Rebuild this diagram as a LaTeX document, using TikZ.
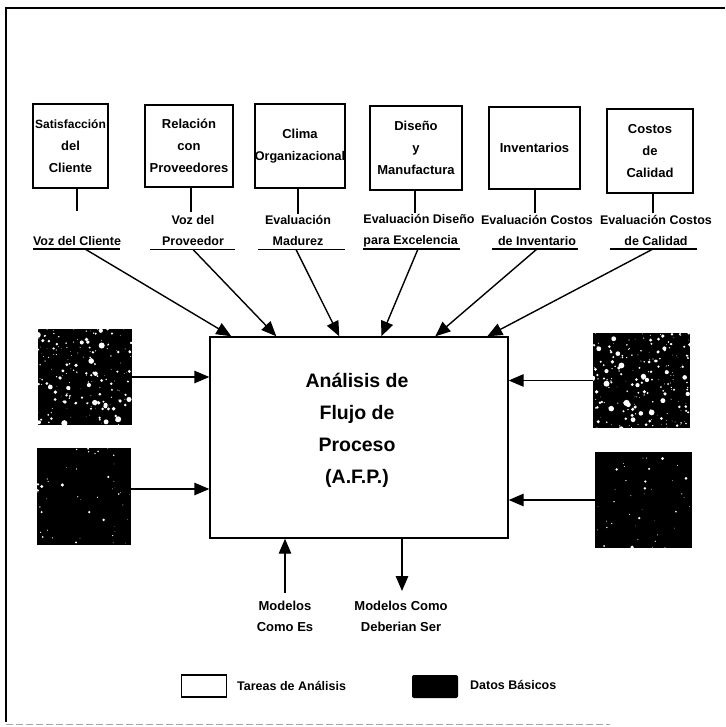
\documentclass[tikz,border=0pt]{standalone}
\usepackage{fontspec}
\setmainfont{Liberation Sans}
\usetikzlibrary{arrows.meta,calc}

% white flecks scattered over a dark data block: node, count, seed, max radius
\newcommand{\specks}[4]{%
  \begin{scope}
    \clip (#1.south west) rectangle (#1.north east);
    \pgfmathsetseed{#3}
    \foreach \k in {1,...,#2}{
      \pgfmathsetmacro{\sx}{rnd}
      \pgfmathsetmacro{\sy}{rnd}
      \pgfmathsetmacro{\sr}{0.3+#4*rnd*rnd}
      \fill[white] ($(#1.north west)!\sx!(#1.north east)$) ++(0,\sy*96) circle (\sr);
    }
  \end{scope}}

\begin{document}
\begin{tikzpicture}[x=1pt,y=-1pt,
  taskbox/.style={draw,line width=1.4pt,inner sep=0pt,align=center,
    font=\bfseries\fontsize{13}{22}\selectfont},
  datbox/.style={fill=black,inner sep=0pt},
  lbl/.style={align=center,inner sep=0pt,font=\bfseries\fontsize{12.5}{21}\selectfont},
  small/.style={align=center,inner sep=0pt,font=\bfseries\fontsize{13}{21}\selectfont},
  legtxt/.style={inner sep=0pt,font=\bfseries\fontsize{12.5}{15}\selectfont},
  stem/.style={line width=1.4pt},
  uline/.style={line width=1.2pt},
  arr/.style={line width=1.4pt,-{Triangle[length=15pt,width=12.5pt]}}]

\useasboundingbox (0,0) rectangle (725,727);

% page frame
\draw[line width=1.2pt] (725,8) -- (6,8) -- (6,722);
\draw[black!35,line width=0.6pt,dash pattern=on 7pt off 3pt] (6,724) -- (610,724);

% analysis tasks
\node[taskbox,minimum width=75pt,minimum height=84pt] (b1) at (70.5,146)
  {{\fontsize{12}{22}\selectfont Satisfacción}\\del\\Cliente};
\node[taskbox,minimum width=88pt,minimum height=82pt] (b2) at (189,146) {Relación\\con\\Proveedores};
\node[taskbox,minimum width=90pt,minimum height=84pt] (b3) at (300,146)
  {Clima\\{\fontsize{12.6}{22}\selectfont Organizacional}};
\node[taskbox,minimum width=92pt,minimum height=84pt] (b4) at (416,148) {Diseño\\y\\Manufactura};
\node[taskbox,minimum width=91pt,minimum height=82pt] (b5) at (534.5,148) {Inventarios};
\node[taskbox,minimum width=86pt,minimum height=84pt] (b6) at (650,151) {Costos\\de\\Calidad};

% their results
\node[lbl] (l1) at (77,241) {Voz del Cliente};
\node[lbl] (l2) at (193,230.5) {Voz del\\Proveedor};
\node[lbl] (l3) at (298,230.5) {Evaluación\\Madurez};
\node[lbl,align=left] (l4) at (419,230.5) {Evaluación Diseño\\para Excelencia};
\node[lbl] (l5) at (537,230.5) {Evaluación Costos\\de Inventario};
\node[lbl] (l6) at (656,230.5) {Evaluación Costos\\de Calidad};

% stems from the boxes
\draw[stem] (b1.south -| 77,0) -- (77,211);
\draw[stem] (b2.south -| 191,0) -- (191,212);
\draw[stem] (b3.south -| 298,0) -- (298,214);
\draw[stem] (b4.south -| 415,0) -- (415,213);
\draw[stem] (b5.south -| 535,0) -- (535,213);
\draw[stem] (b6.south -| 653,0) -- (653,213);

% underlines
\draw[uline] (33,249) -- (120,249);
\draw[uline] (150,249.5) -- (235,249.5);
\draw[uline] (258,249.5) -- (345,249.5);
\draw[uline] (363,249) -- (460,249);
\draw[uline] (492,249) -- (578,249);
\draw[uline] (610,249) -- (697,249);

% central process
\node[draw,line width=1.4pt,minimum width=298pt,minimum height=201pt,inner sep=0pt] (afp) at (359,437.5) {};
\node[align=center,inner sep=0pt,font=\bfseries\fontsize{19.5}{32}\selectfont] (afptxt) at (357,430)
  {Análisis de\\Flujo de\\Proceso\\(A.F.P.)};

% connectors from results to the process
\coordinate (s1) at (85,249);
\coordinate (s2) at (193,249.5);
\coordinate (s3) at (296,249.5);
\coordinate (s4) at (418,249);
\coordinate (s5) at (537,249);
\coordinate (s6) at (653,249);
\draw[arr] (s1) -- ([xshift=22pt]afp.north west);
\draw[arr] (s2) -- ([xshift=67pt]afp.north west);
\draw[arr] (s3) -- ([xshift=130pt]afp.north west);
\draw[arr] (s4) -- ([xshift=172pt]afp.north west);
\draw[arr] (s5) -- ([xshift=226pt]afp.north west);
\draw[arr] (s6) -- ([xshift=278pt]afp.north west);

% basic data
\node[datbox,minimum width=94pt,minimum height=96pt] (d1) at (85,377) {};
\node[datbox,minimum width=94pt,minimum height=97pt] (d2) at (84,496.5) {};
\node[datbox,minimum width=97pt,minimum height=95pt] (d3) at (641.5,380.5) {};
\node[datbox,minimum width=97pt,minimum height=96pt] (d4) at (643.5,500) {};
\specks{d1}{190}{11}{3}
\specks{d2}{45}{23}{1.8}
\specks{d3}{210}{37}{3}
\specks{d4}{40}{51}{1.8}

\draw[arr] (d1.east) -- (d1.east -| afp.west);
\draw[arr] (d2.east |- {(0,489)}) -- (afp.west |- {(0,489)});
\draw[arr] (d3.west) -- (d3.west -| afp.east);
\draw[arr] (d4.west) -- (d4.west -| afp.east);

% models
\node[small] (mes) at (285,616) {Modelos\\Como Es};
\node[small] (mdb) at (401,616) {Modelos Como\\Deberian Ser};
\draw[arr] (285,593) -- (285,0 |- afp.south);
\draw[arr] (402,0 |- afp.south) -- (402,591);

% legend
\node[draw,line width=1.3pt,minimum width=45pt,minimum height=22pt,inner sep=0pt] (lgt) at (204,686) {};
\node[legtxt,anchor=west] (lgttxt) at (237,686) {Tareas de Análisis};
\node[datbox,rounded corners=2pt,minimum width=46pt,minimum height=23pt] (lgd) at (435,686.5) {};
\node[legtxt,anchor=west] (lgdtxt) at (470,685) {Datos Básicos};

\end{tikzpicture}
\end{document}
